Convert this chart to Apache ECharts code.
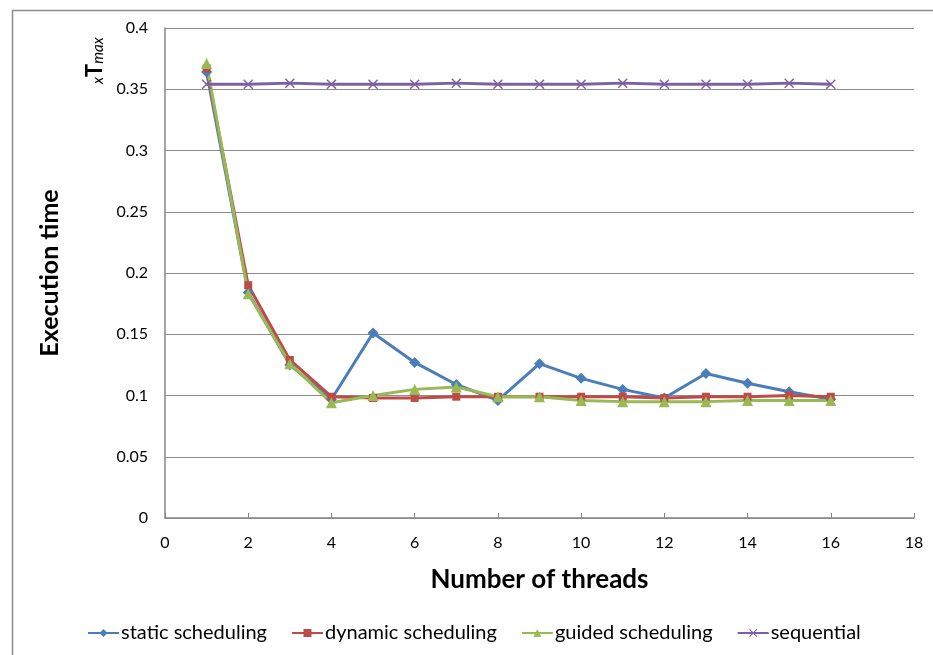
<!DOCTYPE html>
<html>
<head>
<meta charset="utf-8">
<script src="https://cdn.jsdelivr.net/npm/echarts@6/dist/echarts.min.js"></script>
<style>
  html, body { margin: 0; padding: 0; background: #fff; }
  #chart { width: 933px; height: 655px; }
</style>
</head>
<body>
<div id="chart"></div>
<script>
// Thread counts and measured execution times (in units of Tmax)
const threads = [1, 2, 3, 4, 5, 6, 7, 8, 9, 10, 11, 12, 13, 14, 15, 16];
const staticScheduling = [0.364, 0.184, 0.125, 0.097, 0.151, 0.127, 0.109, 0.096, 0.126, 0.114, 0.105, 0.098, 0.118, 0.110, 0.103, 0.097];
const dynamicScheduling = [0.367, 0.190, 0.129, 0.099, 0.098, 0.098, 0.099, 0.099, 0.099, 0.099, 0.099, 0.098, 0.099, 0.099, 0.100, 0.099];
const guidedScheduling = [0.371, 0.183, 0.126, 0.094, 0.100, 0.105, 0.107, 0.099, 0.099, 0.096, 0.095, 0.095, 0.095, 0.096, 0.096, 0.096];
const sequential = [0.354, 0.354, 0.355, 0.354, 0.354, 0.354, 0.355, 0.354, 0.354, 0.354, 0.355, 0.354, 0.354, 0.354, 0.355, 0.354];

const seriesNames = ['static scheduling', 'dynamic scheduling', 'guided scheduling', 'sequential'];
const xTicks = [0, 2, 4, 6, 8, 10, 12, 14, 16, 18];
const yTicks = [0, 0.05, 0.1, 0.15, 0.2, 0.25, 0.3, 0.35, 0.4];

const FONT = 'Lato, "Open Sans", sans-serif';
const crossSymbol = 'path://M0,1L1,0L5,4L9,0L10,1L6,5L10,9L9,10L5,6L1,10L0,9L4,5Z';

function pairs(vals) { return threads.map((t, i) => [t, vals[i]]); }

function lineSeries(name, vals, color, symbol, size) {
  return {
    name: name,
    type: 'line',
    data: pairs(vals),
    symbol: symbol,
    symbolSize: size,
    showSymbol: true,
    lineStyle: { color: color, width: 3 },
    itemStyle: { color: color },
    emphasis: { disabled: true },
    animation: false
  };
}

const chart = echarts.init(document.getElementById('chart'), null, { renderer: 'canvas' });
chart.setOption({
  backgroundColor: '#ffffff',
  animation: false,
  grid: { left: 165, right: 19, top: 28, bottom: 137, containLabel: false },
  xAxis: {
    type: 'value',
    min: xTicks[0],
    max: xTicks[xTicks.length - 1],
    interval: 2,
    name: 'Number of threads',
    nameLocation: 'middle',
    nameGap: 49,
    nameTextStyle: { fontFamily: FONT, fontSize: 26, fontWeight: 'bold', color: '#000' },
    axisLine: { lineStyle: { color: '#868686', width: 1.5 } },
    axisTick: { show: true, inside: true, length: 5, lineStyle: { color: '#868686' } },
    axisLabel: { fontFamily: FONT, fontSize: 16, color: '#000', margin: 17 },
    splitLine: { show: false }
  },
  yAxis: {
    type: 'value',
    min: yTicks[0],
    max: yTicks[yTicks.length - 1],
    interval: 0.05,
    name: 'Execution time',
    nameLocation: 'middle',
    nameGap: 103,
    nameRotate: 90,
    nameTextStyle: { fontFamily: FONT, fontSize: 25, fontWeight: 'bold', color: '#000' },
    axisLine: { show: true, lineStyle: { color: '#868686', width: 1.5 } },
    axisTick: { show: false },
    axisLabel: { fontFamily: FONT, fontSize: 16, color: '#000', margin: 17 },
    splitLine: { show: true, lineStyle: { color: '#8c8c8c', width: 1.2 } }
  },
  legend: {
    data: seriesNames,
    left: 82,
    top: 618,
    itemWidth: 31,
    itemHeight: 10,
    itemGap: 24,
    textStyle: { fontFamily: FONT, fontSize: 20, color: '#000', padding: [0, 0, 0, -3] }
  },
  series: [
    lineSeries(seriesNames[0], staticScheduling, '#4a7ebb', 'diamond', 11),
    lineSeries(seriesNames[1], dynamicScheduling, '#be4b48', 'rect', 8),
    lineSeries(seriesNames[2], guidedScheduling, '#98b954', 'triangle', 11),
    lineSeries(seriesNames[3], sequential, '#7d60a0', crossSymbol, 10)
  ],
  graphic: [
    {
      type: 'rect',
      left: 10, top: 8,
      shape: { width: 940, height: 660 },
      style: { fill: 'none', stroke: '#8c8c8c', lineWidth: 1.5 },
      silent: true
    },
    {
      type: 'text',
      x: 84, y: 84,
      rotation: Math.PI / 2,
      style: {
        text: '{s|x}{b|T}{s|max}',
        rich: {
          s: { fontFamily: FONT, fontSize: 15, fontStyle: 'italic', fill: '#000', verticalAlign: 'bottom' },
          b: { fontFamily: FONT, fontSize: 22, fontWeight: 'bold', fill: '#000' }
        }
      },
      silent: true
    }
  ]
});
</script>
</body>
</html>
